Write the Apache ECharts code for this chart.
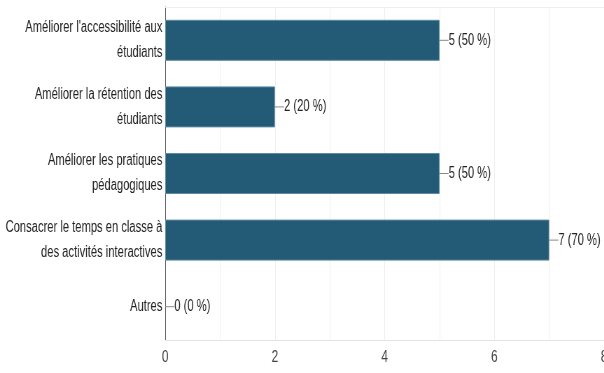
<!DOCTYPE html>
<html>
<head>
<meta charset="utf-8">
<style>
  html, body { margin: 0; padding: 0; background: #fff; overflow: hidden; }
  #wrap { width: 604px; height: 373px; overflow: hidden; }
  /* the chart is laid out wide and narrowed horizontally, giving the condensed look */
  #chart { width: 863px; height: 373px; transform: scaleX(0.7); transform-origin: 0 0; }
</style>
<script src="https://cdn.jsdelivr.net/npm/echarts@6/dist/echarts.min.js"></script>
</head>
<body>
<div id="wrap"><div id="chart"></div></div>
<script>
// Response options (top to bottom) and their counts / shares
const categories = [
  "Améliorer l'accessibilité aux\nétudiants",
  "Améliorer la rétention des\nétudiants",
  "Améliorer les pratiques\npédagogiques",
  "Consacrer le temps en classe à\ndes activités interactives",
  "Autres"
];
const counts = [5, 2, 5, 7, 0];
const percents = [50, 20, 50, 70, 0];
const xTicks = [0, 2, 4, 6, 8];

const FONT = '"Liberation Sans", Arial, sans-serif';

// empty bars get no outline so nothing is drawn on the axis
const barData = counts.map(v => v === 0 ? { value: v, itemStyle: { borderWidth: 0 } } : v);

const chart = echarts.init(document.getElementById('chart'));
chart.setOption({
  animation: false,
  grid: { left: 236, right: 0, top: 7, bottom: 33, outerBoundsMode: 'none', containLabel: false },
  xAxis: [{
    type: 'value',
    min: 0,
    max: 8,
    interval: 1,
    axisLine: { show: true, lineStyle: { color: '#e4e4e4' } },
    axisTick: { show: false },
    splitLine: { show: true, lineStyle: { color: '#ededed', width: 1 } },
    axisLabel: {
      color: '#444',
      fontFamily: FONT,
      fontSize: 17,
      margin: 9,
      formatter: v => xTicks.includes(v) ? String(v) : ''
    }
  }, {
    // thin frame line along the top of the plot
    type: 'value',
    position: 'top',
    min: 0,
    max: 8,
    interval: 1,
    axisLine: { show: true, lineStyle: { color: '#efefef' } },
    axisTick: { show: false },
    axisLabel: { show: false },
    splitLine: { show: false }
  }],
  yAxis: {
    type: 'category',
    inverse: true,
    data: categories,
    axisLine: { show: true, lineStyle: { color: '#555', width: 1 } },
    axisTick: { show: false },
    splitLine: { show: false },
    axisLabel: {
      color: '#222',
      fontFamily: FONT,
      fontSize: 16,
      lineHeight: 25,
      margin: 4,
      align: 'right'
    }
  },
  series: [{
    type: 'bar',
    xAxisIndex: 0,
    data: barData,
    barWidth: 41,
    itemStyle: { color: '#235a75', borderColor: '#5d8aa0', borderWidth: 1 },
    label: {
      show: true,
      position: 'right',
      distance: 0,
      formatter: p => '{l|}{t|' + counts[p.dataIndex] + ' (' + percents[p.dataIndex] + ' %)}',
      rich: {
        l: { width: 13, height: 1, backgroundColor: '#888' },
        t: { color: '#222', fontFamily: FONT, fontSize: 16 }
      }
    }
  }]
});
</script>
</body>
</html>
